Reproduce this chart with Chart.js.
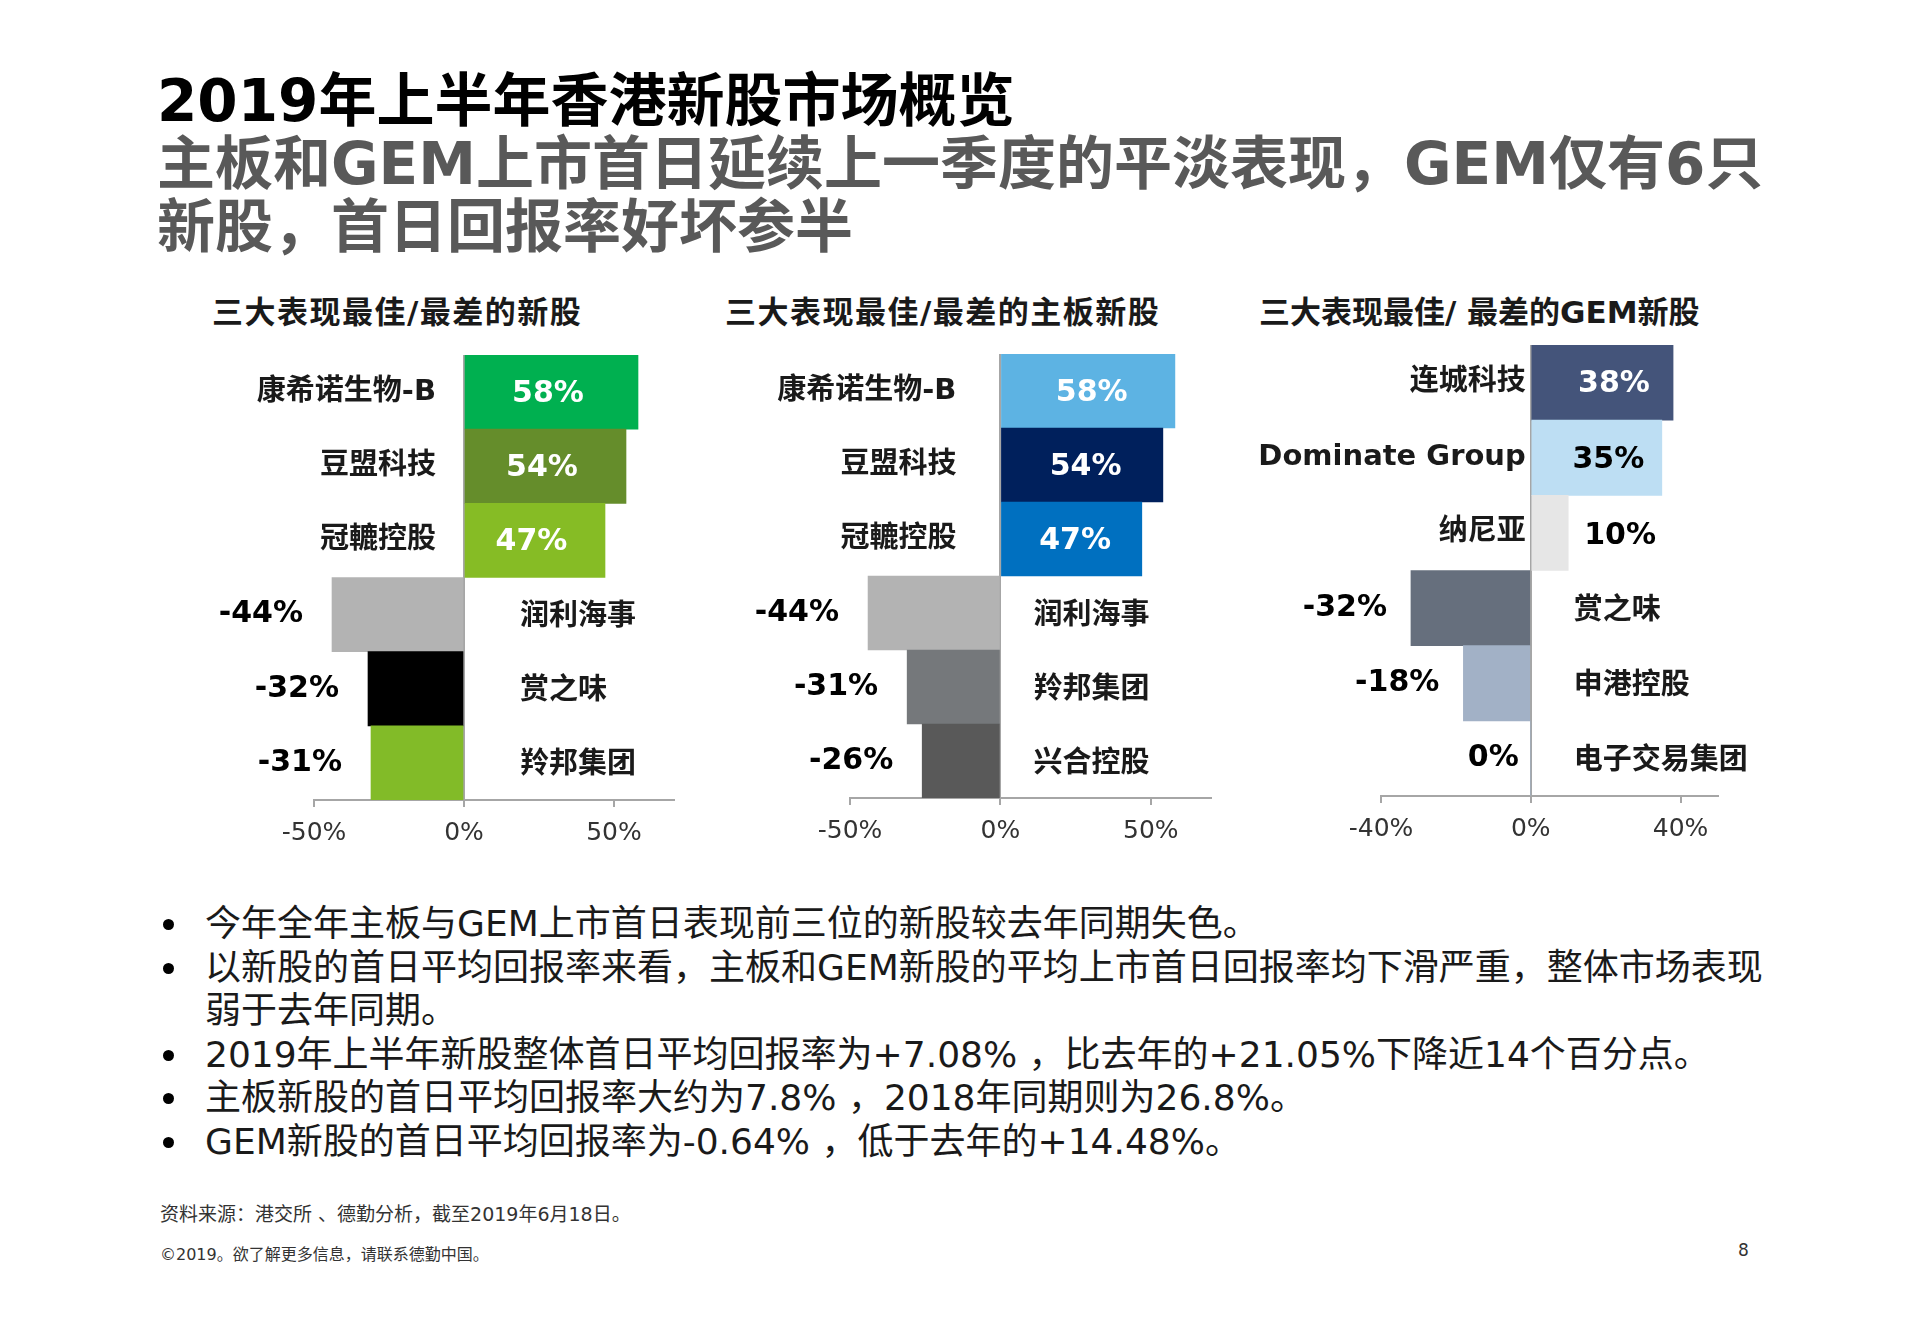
<!DOCTYPE html>
<html>
<head>
<meta charset="utf-8">
<script src="https://cdn.jsdelivr.net/npm/chart.js@4.4.1/dist/chart.umd.min.js"></script>
<style>
  body { margin: 0; width: 1914px; height: 1326px; background: #fff; position: relative; overflow: hidden;
         font-family: "DejaVu Sans", "Noto Sans CJK SC", sans-serif; }
  .abs { position: absolute; white-space: nowrap; }
  #title { left: 157px; top: 70px; font-size: 58px; line-height: 63px; font-weight: bold; color: #595959; }
  #title .l1 { color: #000; }
  .ctitle { font-size: 31px; line-height: 36px; font-weight: bold; color: #1a1a1a; top: 294px; letter-spacing: 1.5px; }
  canvas { position: absolute; }
  #bullets { left: 161px; top: 902px; font-size: 36px; line-height: 43.5px; color: #1a1a1a; }
  #bullets div { position: relative; padding-left: 44px; }
  #bullets div::before { content: ""; position: absolute; left: 2px; top: 17px; width: 11px; height: 11px;
                         border-radius: 50%; background: #000; }
  .note { color: #333; }
</style>
</head>
<body>
<div id="title" class="abs"><span class="l1">2019年上半年香港新股市场概览</span><br>主板和GEM上市首日延续上一季度的平淡表现，GEM仅有6只<br>新股，首日回报率好坏参半</div>

<div class="abs ctitle" style="left:212px">三大表现最佳/最差的新股</div>
<div class="abs ctitle" style="left:725px">三大表现最佳/最差的主板新股</div>
<div class="abs ctitle" style="left:1259px;letter-spacing:0">三大表现最佳/ 最差的GEM新股</div>

<canvas id="c1" width="540" height="539" style="left:190px;top:330px"></canvas>
<canvas id="c2" width="540" height="537" style="left:730px;top:330px"></canvas>
<canvas id="c3" width="560" height="545" style="left:1250px;top:320px"></canvas>

<div id="bullets" class="abs">
  <div>今年全年主板与GEM上市首日表现前三位的新股较去年同期失色。</div>
  <div>以新股的首日平均回报率来看，主板和GEM新股的平均上市首日回报率均下滑严重，整体市场表现<br>弱于去年同期。</div>
  <div>2019年上半年新股整体首日平均回报率为+7.08% ，比去年的+21.05%下降近14个百分点。</div>
  <div>主板新股的首日平均回报率大约为7.8% ，2018年同期则为26.8%。</div>
  <div>GEM新股的首日平均回报率为-0.64% ，低于去年的+14.48%。</div>
</div>

<div class="abs note" style="left:160px;top:1199px;font-size:19px">资料来源：港交所 、德勤分析，截至2019年6月18日。</div>
<div class="abs note" style="left:160px;top:1241px;font-size:16px">©2019。欲了解更多信息，请联系德勤中国。</div>
<div class="abs note" style="left:1738px;top:1240px;font-size:17px">8</div>

<script>
// all new listings
const allNames = ['康希诺生物-B', '豆盟科技', '冠轆控股', '润利海事', '赏之味', '羚邦集团'];
const allValues = [58, 54, 47, -44, -32, -31];
const allColors = ['#00B050', '#658D2B', '#86BC25', '#B3B3B3', '#000000', '#82BB28'];
const allLabelColors = ['#fff', '#fff', '#fff', '#000', '#000', '#000'];

// main board
const mainNames = ['康希诺生物-B', '豆盟科技', '冠轆控股', '润利海事', '羚邦集团', '兴合控股'];
const mainValues = [58, 54, 47, -44, -31, -26];
const mainColors = ['#5DB3E3', '#00205C', '#0070C0', '#B3B3B3', '#75787B', '#595959'];
const mainLabelColors = ['#fff', '#fff', '#fff', '#000', '#000', '#000'];

// GEM
const gemNames = ['连城科技', 'Dominate Group', '纳尼亚', '赏之味', '申港控股', '电子交易集团'];
const gemValues = [38, 35, 10, -32, -18, 0];
const gemColors = ['#44547A', '#BDDEF3', '#E6E6E6', '#666F7D', '#A2B1C6', '#A2B1C6'];
const gemLabelColors = ['#fff', '#000', '#000', '#000', '#000', '#000'];

const FONT = "'DejaVu Sans', 'Noto Sans CJK SC', sans-serif";

const barLabels = {
  id: 'barLabels',
  afterDatasetsDraw(chart, args, opts) {
    const ctx = chart.ctx;
    const meta = chart.getDatasetMeta(0);
    const zero = chart.scales.x.getPixelForValue(0);
    const data = chart.data.datasets[0].data;
    ctx.save();
    ctx.textBaseline = 'middle';
    meta.data.forEach((bar, i) => {
      const v = data[i];
      const name = chart.data.labels[i];
      // category name
      ctx.font = 'bold 29px ' + FONT;
      ctx.fillStyle = '#1a1a1a';
      if (v > 0) {
        ctx.textAlign = 'right';
        ctx.fillText(name, zero - opts.nameLeft, bar.y);
      } else {
        ctx.textAlign = 'left';
        ctx.fillText(name, zero + opts.nameRight, bar.y + 3);
      }
      // value
      ctx.font = 'bold 30px ' + FONT;
      const txt = v + '%';
      if (v >= 20) {
        ctx.textAlign = 'center';
        ctx.fillStyle = opts.colors[i];
        ctx.fillText(txt, (zero + bar.x) / 2 + opts.inShift, bar.y + 2);
      } else if (v > 0) {
        ctx.textAlign = 'left';
        ctx.fillStyle = opts.colors[i];
        ctx.fillText(txt, bar.x + 16, bar.y + 3);
      } else {
        ctx.textAlign = 'right';
        ctx.fillStyle = '#000';
        const gap = v === 0 ? 12 : opts.valGap;
        ctx.fillText(txt, Math.min(bar.x, zero) - gap, bar.y);
      }
    });
    ctx.restore();
  }
};

function makeChart(id, names, values, colors, labelColors, min, max, step, pad, lbl) {
  return new Chart(document.getElementById(id).getContext('2d'), {
    type: 'bar',
    data: {
      labels: names,
      datasets: [{
        data: values,
        backgroundColor: colors,
        borderWidth: 0,
        barPercentage: 1,
        categoryPercentage: 1
      }]
    },
    options: {
      indexAxis: 'y',
      responsive: false,
      animation: false,
      devicePixelRatio: 1,
      layout: { padding: pad },
      scales: {
        x: {
          min: min,
          max: max,
          border: { display: true, color: '#A6A6A6', width: 2 },
          grid: {
            color: c => (c.tick && c.tick.value === 0) ? '#A6A6A6' : 'rgba(0,0,0,0)',
            lineWidth: 2,
            tickColor: '#A6A6A6',
            tickWidth: 2,
            tickLength: 7,
            drawTicks: true
          },
          ticks: {
            stepSize: step,
            includeBounds: false,
            padding: 11,
            color: '#333',
            font: { family: FONT, size: 25 },
            callback: v => v + '%'
          }
        },
        y: { display: false }
      },
      plugins: {
        legend: { display: false },
        tooltip: { enabled: false },
        barLabels: Object.assign({ colors: labelColors }, lbl)
      }
    },
    plugins: [barLabels]
  });
}

makeChart('c1', allNames, allValues, allColors, allLabelColors, -50, 70, 50,
  { left: 124, right: 56, top: 25, bottom: 10 },
  { nameLeft: 28, nameRight: 56, valGap: 29, inShift: -3 });
makeChart('c2', mainNames, mainValues, mainColors, mainLabelColors, -50, 70, 50,
  { left: 120, right: 59, top: 24, bottom: 10 },
  { nameLeft: 44, nameRight: 33, valGap: 29, inShift: 4 });
makeChart('c3', gemNames, gemValues, gemColors, gemLabelColors, -40, 50, 40,
  { left: 131, right: 92, top: 25, bottom: 10 },
  { nameLeft: 5, nameRight: 43, valGap: 24, inShift: 12 });
</script>
</body>
</html>
